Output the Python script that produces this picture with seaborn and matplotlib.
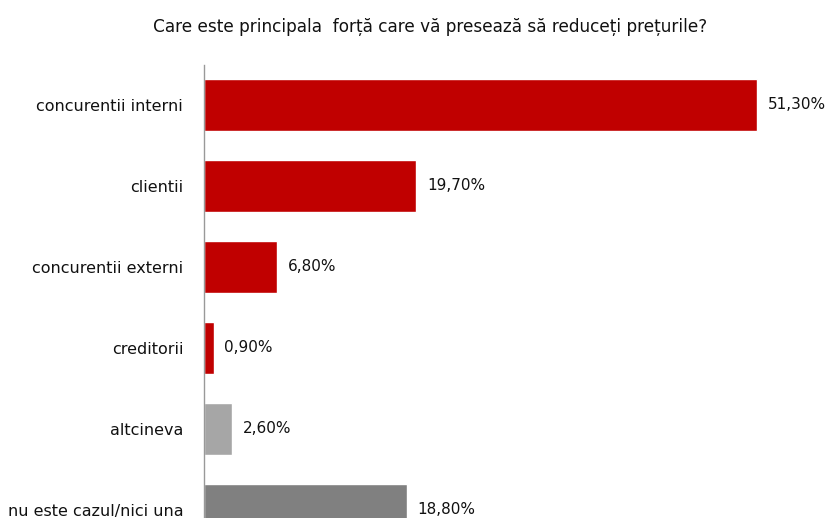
import matplotlib
matplotlib.use('Agg')
import matplotlib.pyplot as plt
import seaborn as sns
import pandas as pd

# Data
categories = ['concurentii interni', 'clientii', 'concurentii externi',
              'creditorii', 'altcineva', 'nu este cazul/nici una']
values = [51.3, 19.7, 6.8, 0.9, 2.6, 18.8]
bar_colors = ['#C00000', '#C00000', '#C00000', '#C00000', '#A6A6A6', '#808080']
title = 'Care este principala  forță care vă presează să reduceți prețurile?'

sns.set_style('white')
plt.rcParams['font.family'] = ['Liberation Sans Narrow', 'DejaVu Sans']

df = pd.DataFrame({'cat': categories, 'val': values})

fig = plt.figure(figsize=(8.37, 5.18), dpi=100)
ax = fig.add_axes([204 / 837, 0, 1 - 204 / 837, 1 - 65 / 518])

sns.barplot(data=df, y='cat', x='val', hue='cat', palette=bar_colors,
            legend=False, width=0.64, saturation=1, ax=ax, orient='h')

ax.set_xlim(0, (837 - 204) / 10.78)
ax.set_ylim(5.10, -0.49)

for i, v in enumerate(values):
    ax.text(v + 1.0, i, f'{v:.2f}'.replace('.', ',') + '%', va='center',
            ha='left', fontsize=11, color='#111111')

ax.set_xlabel('')
ax.set_ylabel('')
ax.set_xticks([])
ax.tick_params(axis='y', length=0, pad=15, labelsize=11.5, labelcolor='#111111')
for s in ['top', 'right', 'bottom']:
    ax.spines[s].set_visible(False)
ax.spines['left'].set_color('#999999')
ax.spines['left'].set_linewidth(1)

fig.text(430 / 837, 1 - 27 / 518, title, ha='center', va='center',
         fontsize=12.2, color='#111111')

fig.savefig('out.png', dpi=100)
